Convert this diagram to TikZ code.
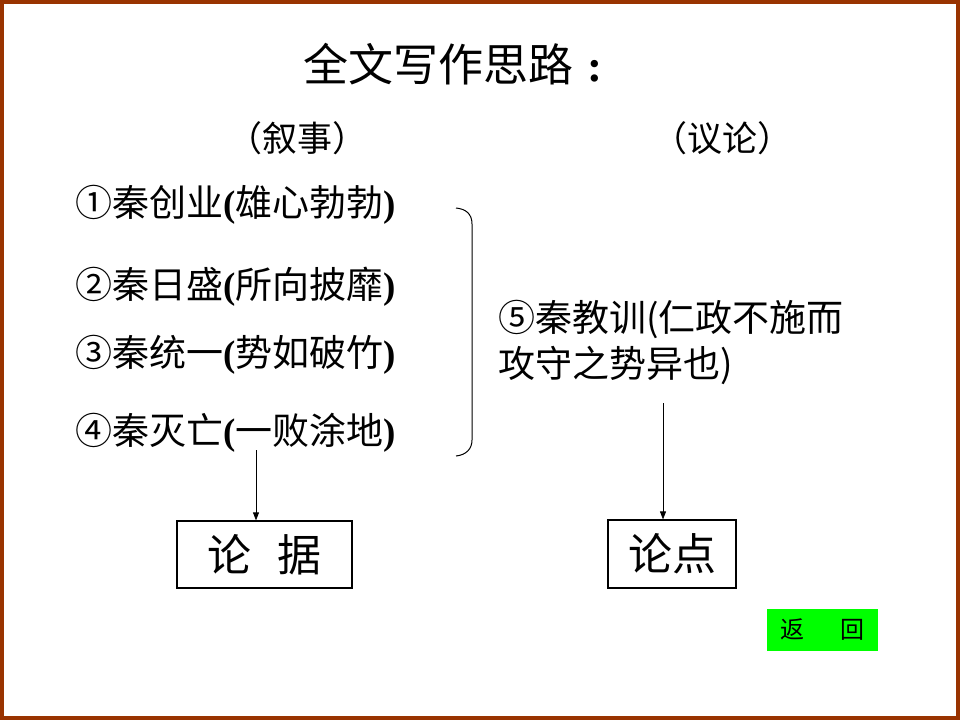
\documentclass[tikz,border=0pt]{standalone}
\usepackage{fontspec}
\setmainfont{Noto Sans CJK SC}
\newfontfamily\tnr{Liberation Serif}
\usetikzlibrary{arrows.meta}
\definecolor{framecol}{RGB}{153,51,0}
\definecolor{btncol}{RGB}{0,255,0}
\newcommand{\lp}{{\tnr\bfseries(}}
\newcommand{\rp}{{\tnr\bfseries)}}
\begin{document}
\begin{tikzpicture}[x=1pt,y=-1pt,
  item/.style={anchor=west, inner sep=0pt, font=\fontsize{37}{46}\selectfont},
  head/.style={inner sep=0pt, font=\fontsize{35}{36}\selectfont},
  resbox/.style={draw, line width=1.2pt, inner sep=0pt, font=\fontsize{44}{44}\selectfont},
  conn/.style={-{Triangle[width=6pt,length=8pt]}, line width=0.8pt}]
\useasboundingbox (0,0) rectangle (960,720);
\draw[framecol, line width=4pt] (2,2) rectangle (958,718);

\node[anchor=west, inner sep=0pt, font=\fontsize{45}{45}\selectfont] (title) at (303,64) {全文写作思路{\tnr\bfseries\hspace{14pt}:}};

\node[head] (hx) at (297.5,138) {（叙事）};
\node[head] (hy) at (722,138) {（议论）};

\node[item] (i1) at (75,205) {①秦创业\lp 雄心勃勃\rp};
\node[item] (i2) at (75,287) {②秦日盛\lp 所向披靡\rp};
\node[item] (i3) at (75,355) {③秦统一\lp 势如破竹\rp};
\node[item] (i4) at (75,433) {④秦灭亡\lp 一败涂地\rp};

\draw[line width=1pt] (456,208) .. controls (466,209) and (472,214) .. (472,224)
  -- (472,440) .. controls (472,449) and (466,455) .. (456,456);

\node[item, align=left] (i5) at (498,342) {⑤秦教训(仁政不施而\\攻守之势异也)};

\node[resbox, minimum width=175, minimum height=67] (ju) at (264.5,554.5) {论\hspace{26pt}据};
\node[resbox, minimum width=128, minimum height=68] (dian) at (672,554) {论点\hspace{8pt}};

\coordinate (s1) at (256,450);
\coordinate (s2) at (663,403);
\draw[conn] (s1) -- (s1 |- ju.north);
\draw[conn] (s2) -- (s2 |- dian.north);

\node[fill=btncol, minimum width=111, minimum height=42, inner sep=0pt,
      font=\fontsize{24}{24}\selectfont] (back) at (822.5,630) {返\hspace{36pt}回};
\end{tikzpicture}
\end{document}
